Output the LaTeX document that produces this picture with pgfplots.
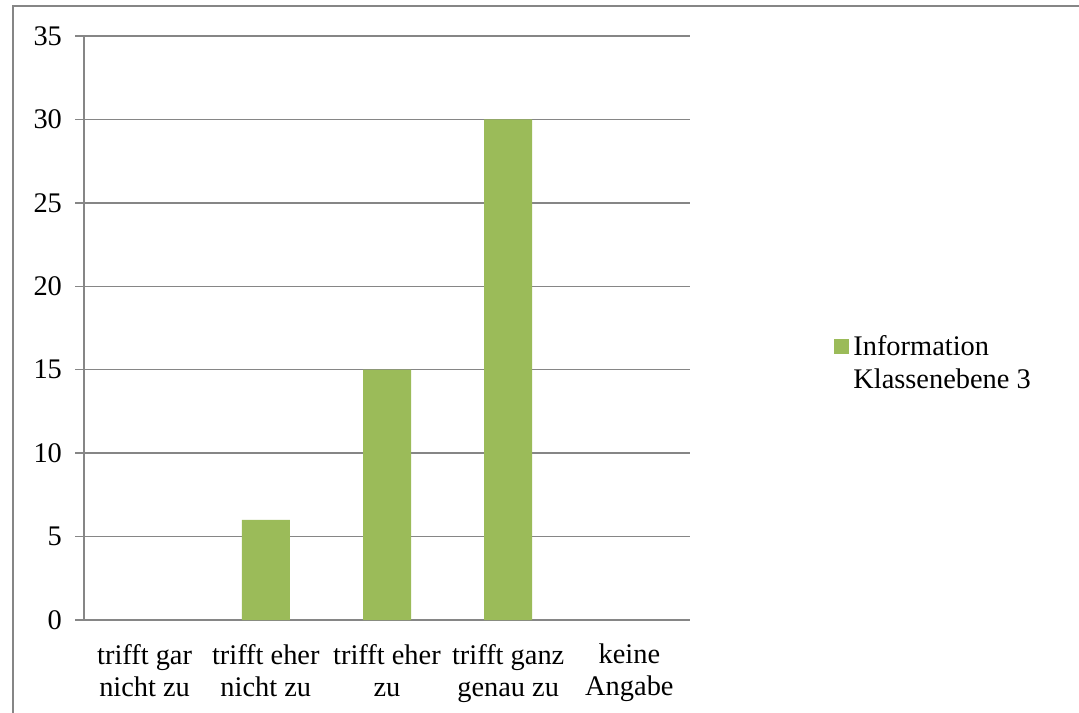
\documentclass[border=0pt]{standalone}
\usepackage{fontspec}
\setmainfont{Liberation Serif}
\usepackage{pgfplots}
\pgfplotsset{compat=1.18}
\definecolor{barc}{HTML}{9BBB59}
\definecolor{gridc}{HTML}{868686}
\newcommand{\cfont}{\fontsize{14.2pt}{16pt}\selectfont}
\begin{document}
\begin{tikzpicture}
\useasboundingbox (0pt,0pt) rectangle (539.5pt,356pt);
\draw[gridc, line width=1pt] (6.25pt,-5pt) -- (6.25pt,352.75pt) -- (545pt,352.75pt);
\begin{axis}[
  at={(42pt,46pt)}, anchor=south west,
  scale only axis, width=303pt, height=292pt,
  xmin=-0.5, xmax=4.5, ymin=0, ymax=35,
  ytick={0,5,...,35},
  ymajorgrids, grid style={gridc, line width=0.75pt},
  axis x line*=bottom, axis y line*=left,
  axis line style={gridc, line width=0.75pt, -},
  tick style={gridc, line width=0.75pt},
  tick align=outside,
  major tick length=4.5pt,
  xtick={0,...,4},
  xticklabels={{trifft gar\\nicht zu},{trifft eher\\nicht zu},{trifft eher\\zu},{trifft ganz\\genau zu},{keine\\Angabe}},
  x tick style={draw=none},
  minor xtick={-0.5,0.5,...,4.5},
  minor x tick style={gridc, line width=0.75pt},
  minor tick length=3.5pt,
  xticklabel style={align=center, font=\cfont, yshift=-4pt},
  yticklabel style={font=\cfont, xshift=-3pt},
  /pgf/number format/assume math mode=true,
  ybar, bar width=24pt,
  legend style={at={(1.2376,0.494)}, anchor=north west, draw=none, fill=none, font=\cfont, inner sep=0pt, row sep=1pt},
  legend cell align=left,
]
\addplot[fill=barc, draw=none, y filter/.expression={y==0 ? nan : y},
  legend image code/.code={\fill[barc] (0pt,-3.5pt) rectangle (7.5pt,4pt);}]
  coordinates {(0,0) (1,6) (2,15) (3,30) (4,0)};
\addlegendentry{Information}
\addlegendimage{empty legend}
\addlegendentry{Klassenebene 3}
\end{axis}
\end{tikzpicture}
\end{document}
